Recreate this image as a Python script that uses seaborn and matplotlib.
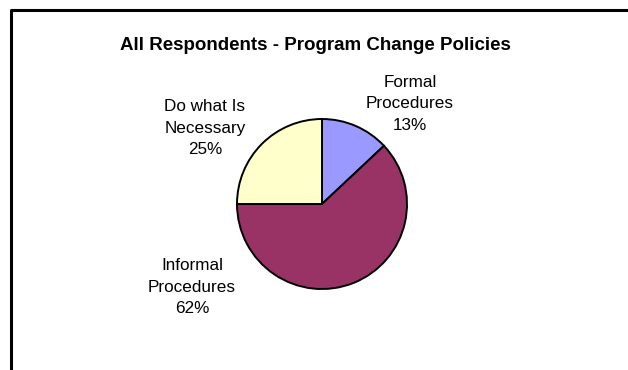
import matplotlib
matplotlib.use("Agg")
import matplotlib.pyplot as plt
import seaborn as sns
from matplotlib.lines import Line2D

# data
categories = ["Formal\nProcedures", "Informal\nProcedures", "Do what Is\nNecessary"]
shares = [13, 62, 25]
colors = ["#9999FF", "#993366", "#FFFFCC"]

sns.set_theme(style="white")
plt.rcParams['font.family'] = ['Liberation Sans', 'DejaVu Sans']

W, H = 628, 370
fig = plt.figure(figsize=(W / 100, H / 100), dpi=100)
fig.patch.set_facecolor("white")
ax = fig.add_axes([0, 0, 1, 1])

# positions below are in pixels from the top-left corner; flip y for the axes
def px(x, y):
    return x, H - y

ax.pie(shares, colors=colors, startangle=90, counterclock=False,
       center=px(322, 204), radius=85,
       wedgeprops=dict(edgecolor="black", linewidth=1.4))

ax.set_xlim(0, W)
ax.set_ylim(0, H)
ax.set_aspect("auto")
ax.axis("off")

# chart frame (only top and left edges are in view)
ax.add_line(Line2D([11, 11, W + 5], [-5, H - 9.5, H - 9.5], color="black", lw=2.2))

ax.text(*px(315, 45), "All Respondents - Program Change Policies", ha="center", va="center",
        fontsize=13.5, fontweight="bold", color="black")

label_pos = [(410, 104), (192, 287), (205, 128)]
for (x, y), name, val in zip(label_pos, categories, shares):
    ax.text(*px(x, y), f"{name}\n{val}%", ha="center", va="center", fontsize=12.3,
            color="black", linespacing=1.55)

fig.savefig("out.png", dpi=100, facecolor="white")
